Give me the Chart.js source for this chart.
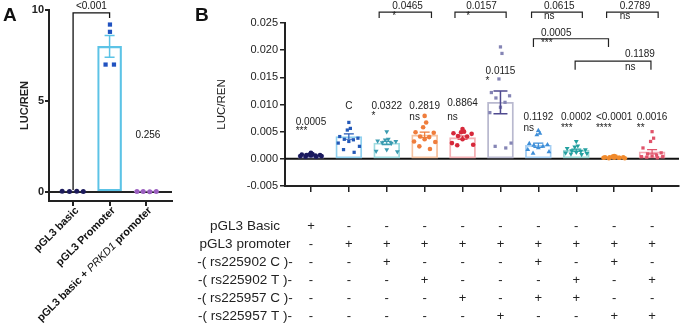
<!DOCTYPE html>
<html>
<head>
<meta charset="utf-8">
<script src="https://cdn.jsdelivr.net/npm/chart.js@4.4.0/dist/chart.umd.min.js"></script>
<style>
  html, body { margin: 0; padding: 0; background: #fff; }
  #wrap { position: relative; width: 683px; height: 326px; overflow: hidden; }
  #chartA { position: absolute; left: 0; top: 0; }
  #chartB { position: absolute; left: 190px; top: 0; }
</style>
</head>
<body>
<div id="wrap">
  <canvas id="chartA" width="190" height="326"></canvas>
  <canvas id="chartB" width="493" height="326"></canvas>
</div>
<script>
const FONT = "'Liberation Sans', Arial, sans-serif";
Chart.defaults.font.family = FONT;

// ---------- Panel A data
const groupsA = ['pGL3 basic', 'pGL3 Promoter', 'pGL3 basic + PRKD1 promoter'];
const italicWordA = 'PRKD1';
const pointsA = [[0.03, 0.02, 0.03, 0.02], [9.2, 8.8, 7.0, 7.0], [0.02, 0.02, 0.01, 0.02]];
const meansA = [0.025, 8.0, 0.018];
const semA = [0.003, 0.6, 0.003];
const ticksA = [0, 5, 10];
const bracketA = { from: 0, to: 1, p: '<0.001' };
const noteA = { at: 2, text: '0.256' };

// ---------- Panel B data
const groupsB = ['pGL3 Basic', 'pGL3 promoter', 'rs225902 C', 'rs225902 T', 'rs225957 C', 'rs225957 T',
                 'C + C', 'T + C', 'C + T', 'T + T'];
const pointsB = [
  [0.0011, 0.0009, 0.0008, 0.0008, 0.0007, 0.0007, 0.0006, 0.0006, 0.0005, 0.0005, 0.0004, 0.0004],
  [0.0067, 0.0056, 0.0053, 0.0041, 0.0038, 0.0036, 0.0035, 0.0032, 0.0029, 0.0023, 0.0017, 0.0012],
  [0.0050, 0.0036, 0.0035, 0.0033, 0.0032, 0.0030, 0.0029, 0.0017, 0.0014, 0.0013],
  [0.0079, 0.0067, 0.0058, 0.0049, 0.0048, 0.0041, 0.0040, 0.0036, 0.0032, 0.0031, 0.0023, 0.0018],
  [0.0055, 0.0050, 0.0049, 0.0047, 0.0046, 0.0042, 0.0041, 0.0036, 0.0029, 0.0026, 0.0025],
  [0.0206, 0.0194, 0.0147, 0.0122, 0.0116, 0.0112, 0.0104, 0.0095, 0.0085, 0.0029, 0.0023, 0.0020],
  [0.0052, 0.0047, 0.0044, 0.0028, 0.0026, 0.0025, 0.0023, 0.0020, 0.0017, 0.0013, 0.0010],
  [0.0032, 0.0024, 0.0022, 0.0019, 0.0017, 0.0015, 0.0014, 0.0012, 0.0011, 0.0010, 0.0009, 0.0008],
  [0.0005, 0.0004, 0.0004, 0.0003, 0.0003, 0.0003, 0.0002, 0.0002, 0.0002, 0.0001, 0.0001, 0.0002],
  [0.0050, 0.0038, 0.0032, 0.0020, 0.0011, 0.0009, 0.0007, 0.0005, 0.0004, 0.0004, 0.0003, 0.0002]
];
const meansB = [0.0007, 0.0041, 0.0029, 0.0044, 0.0039, 0.0104, 0.0025, 0.0016, 0.0003, 0.0013];
const semB = [0.0001, 0.0005, 0.0003, 0.0005, 0.0003, 0.0021, 0.0004, 0.0002, 0.00005, 0.0004];
const pLabelsB = ['0.0005', 'C', '0.0322', '0.2819', '0.8864', '0.0115', '0.1192', '0.0002', '<0.0001', '0.0016'];
const sigLabelsB = ['***', '', '*', 'ns', 'ns', '*', 'ns', '***', '****', '**'];
const bracketsB = [
  { from: 2, to: 3, p: '0.0465', sig: '*' },
  { from: 4, to: 5, p: '0.0157', sig: '*' },
  { from: 6, to: 7, p: '0.0615', sig: 'ns' },
  { from: 8, to: 9, p: '0.2789', sig: 'ns' },
  { from: 6, to: 8, p: '0.0005', sig: '***' },
  { from: 7, to: 9, p: '0.1189', sig: 'ns' }
];
const tableRowsB = ['pGL3 Basic', 'pGL3 promoter', '-( rs225902 C )-', '-( rs225902 T )-', '-( rs225957 C )-', '-( rs225957 T )-'];
const tableSignsB = ['+---------', '-+++++++++', '--+---+-+-', '---+---+-+', '----+-++--', '-----+--++'];

// ---------- styles / layout
const markerA = ['#1d1b5c', '#2052c0', '#9b5fc0'];
const barLineA = ['#8a8ab8', '#5cc3e6', '#c8a0e0'];
const jitterA = [[-0.3, -0.1, 0.1, 0.28], [0.01, 0.01, -0.11, 0.12], [-0.25, -0.08, 0.1, 0.28]];

const markerB = ['#1b1a5e', '#2459b8', '#3b9bb0', '#ef7d3c', '#d6283a', '#8585b5', '#3f8fd8', '#23a0a0', '#f08a2c', '#e0536a'];
const barLineB = ['#a0a0c8', '#8fd0ef', '#9edbe0', '#f6c3a1', '#f4b0b4', '#b9b9cf', '#a6cff3', '#9bd9d6', '#f8c796', '#f3a9b4'];
const errColorB = ['#1b1a5e', '#2459b8', '#3b9bb0', '#ef7d3c', '#d6283a', '#4f4a8f', '#3f8fd8', '#23a0a0', '#f08a2c', '#e0536a'];
const styleB = ['circle', 'rect', 'triangle', 'circle', 'circle', 'rect', 'triangle', 'triangle', 'circle', 'rect'];
const rotB = [0, 0, 180, 0, 0, 0, 0, 180, 0, 0];
const spread = [0, 0.04, -0.04, -0.24, 0.24, -0.12, 0.12, 0, -0.28, 0.28, -0.14, 0.14];
const pLabelYB = [0.0068, 0.0096, 0.0097, 0.0097, 0.0103, 0.0162, 0.0077, 0.0077, 0.0077, 0.0077];
const sigYB = [0.0050, 0, 0.0079, 0.0077, 0.0077, 0.0143, 0.0057, 0.0057, 0.0057, 0.0057];
const bracketLayoutB = [
  { l: -0.2, r: 0.18, top: 0.0270, leg: 0.0259, px: 2.55, py: 0.0281, sy: 0.0262 },
  { l: -0.2, r: 0.15, top: 0.0270, leg: 0.0259, px: 4.5, py: 0.0281, sy: 0.0262 },
  { l: -0.18, r: 0.16, top: 0.0270, leg: 0.0259, px: 6.55, py: 0.0281, sy: 0.0262 },
  { l: -0.2, r: 0.16, top: 0.0270, leg: 0.0259, px: 8.55, py: 0.0281, sy: 0.0262 },
  { l: -0.13, r: -0.15, top: 0.0221, leg: 0.0206, px: 6.47, py: 0.0232, sy: 0.0213 },
  { l: -0.03, r: -0.03, top: 0.0180, leg: 0.0164, px: 8.68, py: 0.0193, sy: 0.0169 }
];

function errorBar(ctx, xp, yTop, yBot, cap, color, width) {
  ctx.strokeStyle = color;
  ctx.lineWidth = width;
  ctx.beginPath();
  ctx.moveTo(xp, yTop); ctx.lineTo(xp, yBot);
  ctx.moveTo(xp - cap, yTop); ctx.lineTo(xp + cap, yTop);
  ctx.moveTo(xp - cap, yBot); ctx.lineTo(xp + cap, yBot);
  ctx.stroke();
}

const overlayA = {
  id: 'overlayA',
  beforeDatasetsDraw(chart) {
    const { ctx, chartArea, scales: { y } } = chart;
    const y0 = y.getPixelForValue(0);
    ctx.save();
    ctx.strokeStyle = '#222';
    ctx.lineWidth = 2;
    ctx.beginPath(); ctx.moveTo(chartArea.left, y0); ctx.lineTo(chartArea.right, y0); ctx.stroke();
    ctx.restore();
  },
  afterDatasetsDraw(chart) {
    const { ctx, scales: { x, y } } = chart;
    ctx.save();
    meansA.forEach((m, i) => {
      if (i === 1) errorBar(ctx, x.getPixelForValue(i), y.getPixelForValue(m + semA[i]), y.getPixelForValue(m - semA[i]), 5, barLineA[i], 1.5);
    });
    // bracket
    const xl = x.getPixelForValue(bracketA.from), xr = x.getPixelForValue(bracketA.to);
    ctx.strokeStyle = '#111'; ctx.lineWidth = 1.3;
    ctx.beginPath();
    ctx.moveTo(xl, y.getPixelForValue(0.1));
    ctx.lineTo(xl, y.getPixelForValue(9.84));
    ctx.lineTo(xr, y.getPixelForValue(9.84));
    ctx.lineTo(xr, y.getPixelForValue(9.56));
    ctx.stroke();
    ctx.fillStyle = '#111';
    ctx.font = `10px ${FONT}`;
    ctx.textAlign = 'center'; ctx.textBaseline = 'middle';
    ctx.fillText(bracketA.p, (xl + xr) / 2, y.getPixelForValue(10.2));
    ctx.fillText(noteA.text, x.getPixelForValue(noteA.at + 0.05), y.getPixelForValue(3.13));
    // panel letter
    ctx.font = `bold 19px ${FONT}`;
    ctx.textAlign = 'left'; ctx.textBaseline = 'alphabetic';
    ctx.fillText('A', 3, 21);
    // rotated x labels
    const axisY = x.top;
    groupsA.forEach((g, i) => {
      const parts = g.includes(italicWordA) ? g.split(italicWordA) : [g];
      const segs = parts.length > 1
        ? [[parts[0], `bold 10.8px ${FONT}`], [italicWordA, `italic 10.8px ${FONT}`], [parts[1], `bold 10.8px ${FONT}`]]
        : [[g, `bold 10.8px ${FONT}`]];
      ctx.save();
      ctx.translate(x.getPixelForValue(i) + 4, axisY + 8);
      ctx.rotate(-Math.PI / 4);
      let total = 0;
      segs.forEach(s => { ctx.font = s[1]; total += ctx.measureText(s[0]).width; });
      let cx = -total;
      ctx.textAlign = 'left'; ctx.textBaseline = 'middle';
      segs.forEach(s => { ctx.font = s[1]; ctx.fillText(s[0], cx, 0); cx += ctx.measureText(s[0]).width; });
      ctx.restore();
    });
    ctx.restore();
  }
};

new Chart(document.getElementById('chartA'), {
  type: 'scatter',
  data: {
    datasets: [
      {
        type: 'bar',
        data: meansA.map((m, i) => ({ x: i, y: m })),
        backgroundColor: 'rgba(255,255,255,0)',
        borderColor: barLineA,
        borderWidth: 1.5,
        borderSkipped: false,
        barThickness: 24,
        order: 2
      },
      ...pointsA.map((pts, i) => ({
        data: pts.map((v, k) => ({ x: i + jitterA[i][k], y: v })),
        pointStyle: i === 1 ? 'rect' : 'circle',
        pointRadius: i === 1 ? 3 : 2.5,
        backgroundColor: markerA[i],
        borderColor: markerA[i],
        borderWidth: 0,
        order: 1
      }))
    ]
  },
  options: {
    responsive: false,
    animation: false,
    layout: { padding: { top: 10, right: 18, left: 0, bottom: 0 } },
    plugins: { legend: { display: false }, tooltip: { enabled: false } },
    scales: {
      x: {
        type: 'linear', min: -0.66, max: 2.71, offset: false,
        afterFit(s) { s.height = 125; },
        afterBuildTicks(s) { s.ticks = groupsA.map((g, i) => ({ value: i })); },
        ticks: { callback: () => '' },
        grid: { offset: false, drawOnChartArea: false, tickLength: 5, color: '#222', lineWidth: 2 },
        border: { color: '#222', width: 2 }
      },
      y: {
        min: -0.5, max: 10,
        afterFit(s) { s.width = 49; },
        afterBuildTicks(s) { s.ticks = ticksA.map(v => ({ value: v })); },
        ticks: { font: { size: 11, weight: 'bold' }, color: '#222', padding: 1 },
        grid: { drawOnChartArea: false, tickLength: 4, color: '#222', lineWidth: 2 },
        border: { color: '#222', width: 2 },
        title: { display: true, text: 'LUC/REN', font: { size: 11, weight: 'bold' }, color: '#222', padding: { top: 18, bottom: 0 } }
      }
    }
  },
  plugins: [overlayA]
});

const overlayB = {
  id: 'overlayB',
  beforeDatasetsDraw(chart) {
    const { ctx, chartArea, scales: { y } } = chart;
    const y0 = y.getPixelForValue(0);
    ctx.save();
    ctx.strokeStyle = '#111';
    ctx.lineWidth = 2;
    ctx.beginPath(); ctx.moveTo(chartArea.left, y0); ctx.lineTo(chartArea.right, y0); ctx.stroke();
    ctx.restore();
  },
  afterDatasetsDraw(chart) {
    const { ctx, scales: { x, y } } = chart;
    ctx.save();
    meansB.forEach((m, i) => {
      errorBar(ctx, x.getPixelForValue(i), y.getPixelForValue(m + semB[i]), y.getPixelForValue(m - semB[i]),
        i === 5 ? 7 : 5, errColorB[i], i === 5 ? 1.5 : 1.2);
    });
    ctx.fillStyle = '#222';
    ctx.textBaseline = 'middle';
    ctx.font = `10px ${FONT}`;
    pLabelsB.forEach((t, i) => {
      const cx = x.getPixelForValue(i);
      const w = ctx.measureText(t).width;
      ctx.textAlign = 'center';
      ctx.fillText(t, cx, y.getPixelForValue(pLabelYB[i]));
      if (sigLabelsB[i]) {
        ctx.textAlign = 'left';
        ctx.fillText(sigLabelsB[i], cx - w / 2, y.getPixelForValue(sigYB[i]));
      }
    });
    // brackets
    bracketsB.forEach((b, k) => {
      const L = bracketLayoutB[k];
      const xl = x.getPixelForValue(b.from + L.l), xr = x.getPixelForValue(b.to + L.r);
      const yt = y.getPixelForValue(L.top), yl = y.getPixelForValue(L.leg);
      ctx.strokeStyle = '#222'; ctx.lineWidth = 1.2;
      ctx.beginPath();
      ctx.moveTo(xl, yl); ctx.lineTo(xl, yt); ctx.lineTo(xr, yt); ctx.lineTo(xr, yl);
      ctx.stroke();
      const cx = x.getPixelForValue(L.px);
      const w = ctx.measureText(b.p).width;
      ctx.textAlign = 'center';
      ctx.fillText(b.p, cx, y.getPixelForValue(L.py));
      ctx.textAlign = 'left';
      ctx.fillText(b.sig, cx - w / 2, y.getPixelForValue(L.sy));
    });
    ctx.restore();
  },
  afterDraw(chart) {
    const { ctx, scales: { x } } = chart;
    ctx.save();
    ctx.fillStyle = '#111';
    ctx.font = `bold 19px ${FONT}`;
    ctx.textAlign = 'left'; ctx.textBaseline = 'alphabetic';
    ctx.fillText('B', 5, 21);
    ctx.fillStyle = '#222';
    ctx.textBaseline = 'middle';
    tableRowsB.forEach((label, r) => {
      const ty = 226 + r * 18;
      ctx.font = `13.5px ${FONT}`;
      ctx.textAlign = 'center';
      ctx.fillText(label, 55, ty);
      ctx.font = `13px ${FONT}`;
      tableSignsB[r].split('').forEach((s, c) => ctx.fillText(s, x.getPixelForValue(c), ty));
    });
    ctx.restore();
  }
};

new Chart(document.getElementById('chartB'), {
  type: 'scatter',
  data: {
    datasets: [
      {
        type: 'bar',
        data: meansB.map((m, i) => ({ x: i, y: m })),
        backgroundColor: 'rgba(255,255,255,0)',
        borderColor: barLineB,
        borderWidth: 1.2,
        borderSkipped: false,
        barThickness: 26,
        order: 2
      },
      ...pointsB.map((pts, i) => ({
        data: pts.map((v, k) => ({ x: i + spread[k % spread.length], y: v })),
        pointStyle: styleB[i],
        pointRotation: rotB[i],
        pointRadius: styleB[i] === 'triangle' ? 2.8 : 2.3,
        backgroundColor: markerB[i],
        borderColor: markerB[i],
        borderWidth: 0,
        order: 1
      }))
    ]
  },
  options: {
    responsive: false,
    animation: false,
    layout: { padding: { top: 23, right: 3, left: 0, bottom: 0 } },
    plugins: { legend: { display: false }, tooltip: { enabled: false } },
    scales: {
      x: {
        type: 'linear', min: -0.684, max: 9.71, offset: false,
        afterFit(s) { s.height = 140; },
        afterBuildTicks(s) { s.ticks = groupsB.map((g, i) => ({ value: i })); },
        ticks: { callback: () => '' },
        grid: { offset: false, drawOnChartArea: false, tickLength: 6, color: '#222', lineWidth: 1.5 },
        border: { color: '#222', width: 2 }
      },
      y: {
        min: -0.005, max: 0.025,
        afterFit(s) { s.width = 95; },
        ticks: { stepSize: 0.005, font: { size: 11 }, color: '#222', padding: 2, callback: v => v.toFixed(3) },
        grid: { drawOnChartArea: false, tickLength: 5, color: '#222', lineWidth: 1.5 },
        border: { color: '#222', width: 2 },
        title: { display: true, text: 'LUC/REN', font: { size: 11.5 }, color: '#222', padding: { top: 25, bottom: 0 } }
      }
    }
  },
  plugins: [overlayB]
});
</script>
</body>
</html>
